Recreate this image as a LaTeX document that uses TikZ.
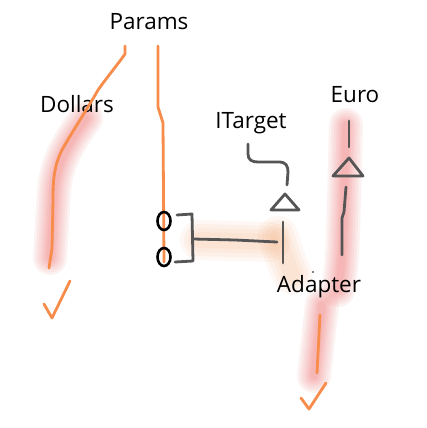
\documentclass[tikz,border=0pt]{standalone}
\usepackage{fontspec}
\setmainfont{Open Sans}
\begin{document}
\begin{tikzpicture}[x=1pt,y=-1pt,
  lbl/.style={font=\fontsize{22.5}{26}\selectfont, text=black, inner sep=0pt, anchor=center},
  pen/.style={line width=2.8pt, line cap=round, line join=round},
  orangepen/.style={pen, draw={rgb,255:red,247;green,140;blue,75}},
  graypen/.style={pen, draw={rgb,255:red,85;green,85;blue,85}},
  blackpen/.style={line width=2.6pt, draw=black},
  redglow/.style={line cap=round, line join=round, draw={rgb,255:red,238;green,85;blue,85}, opacity=0.075},
  orglow/.style={line cap=round, line join=round, draw={rgb,255:red,248;green,160;blue,100}, opacity=0.075}
]
\useasboundingbox (0,0) rectangle (426,428);
\fill[white] (0,0) rectangle (426,428);

% ---------- glows ----------
\foreach \w in {34,29,24,19,15,11,7}{
  \draw[redglow, line width=\w pt] (86,118) .. controls (70,140) and (57,160) .. (54,190) -- (50,258);
  \draw[redglow, line width=\w pt] (346,125) -- (344,200) .. controls (343,240) and (342,270) .. (338,290);
  \draw[redglow, line width=\w pt] (322,305) -- (318,340) -- (314,376);
}
\foreach \w in {40,32,24,16}{
  \draw[orglow, line width=\w pt] (200,240) -- (270,242);
  \draw[orglow, line width=\w pt] (278,236) -- (286,260) -- (292,274);
}

% ---------- labels ----------
\node[lbl] (params) at (149,22) {Params};
\node[lbl] (dollars) at (77,104) {Dollars};
\node[lbl] (itarget) at (251,123) {ITarget};
\node[lbl] (euro) at (355,95) {Euro};
\node[lbl] (adapter) at (319,287) {Adapter};

% ---------- orange strokes ----------
\draw[orangepen] (125,46) -- (125,54) .. controls (118,64) and (108,76) .. (98,90)
  .. controls (88,108) and (72,132) .. (62,150) .. controls (54,166) and (53,180) .. (53,200)
  -- (52,248) -- (49,268);
\draw[orangepen] (158,46) -- (158,107) -- (163,123) -- (164,262);
\draw[orangepen] (44,304) -- (52,318) -- (70,281);
\draw[orangepen] (320,315) -- (317,373);
\draw[orangepen] (301,398) -- (309,409) -- (326,383);

% ---------- ports ----------
\draw[blackpen] (164,221) ellipse [x radius=6.5pt, y radius=9pt];
\draw[blackpen] (164,257) ellipse [x radius=6.5pt, y radius=9pt];
\node[inner sep=0pt, minimum size=0pt] (p1) at (164,221) {};
\node[inner sep=0pt, minimum size=0pt] (p2) at (164,257) {};

% ---------- gray bracket and connector ----------
\draw[graypen] (177,215) -- (192,214) -- (193,261) -- (175,262);
\draw[graypen] (193,239) -- (235,240) -- (277,242);
\draw[graypen] (283,222) -- (283,263);

% ---------- ITarget lollipop ----------
\draw[graypen] (271,210) -- (285,194) -- (299,210) -- cycle;
\draw[graypen] (248,144) -- (248,154) .. controls (248,160) and (252,162) .. (258,162)
  -- (279,162) .. controls (286,162) and (288,166) .. (288,172) -- (287,185);

% ---------- Euro lollipop ----------
\draw[graypen] (349,121) -- (349,147);
\draw[graypen] (333,176) -- (349,158) -- (363,176) -- cycle;
\draw[graypen] (346,187) -- (344,212) -- (342,218) -- (342,255);

% small dot
\fill[black] (313,272) circle (0.8pt);
\end{tikzpicture}
\end{document}
